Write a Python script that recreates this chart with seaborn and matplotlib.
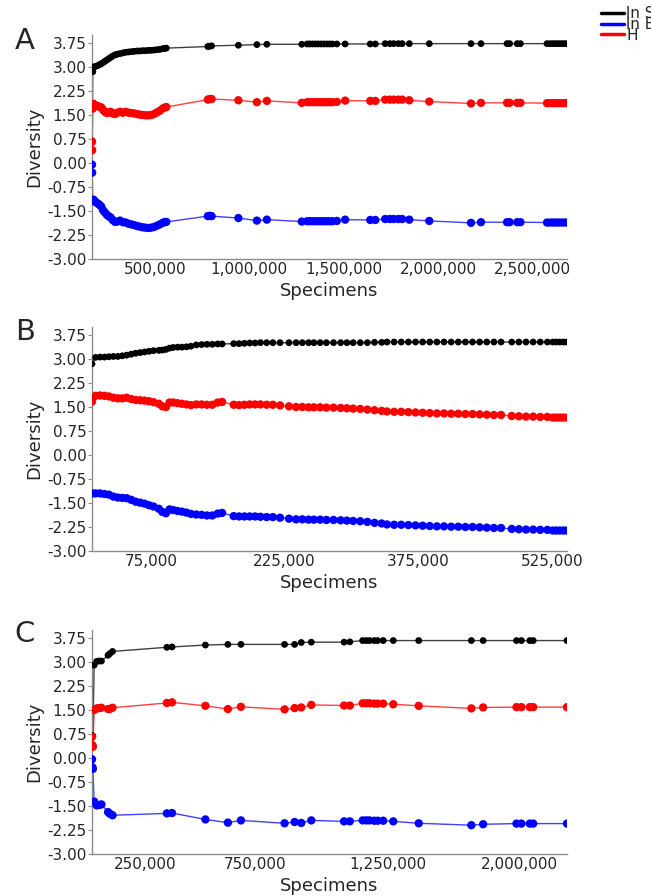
import numpy as np
import pandas as pd
import seaborn as sns
import matplotlib.pyplot as plt
from matplotlib.lines import Line2D
from matplotlib.ticker import FuncFormatter

sns.set_style('white')
plt.rcParams['font.family'] = ['DejaVu Sans']

# ---- panel A (specimens in thousands) ----
a_x = [166, 167, 170, 175, 185, 195, 205, 215, 225, 235, 245, 255, 265, 275, 288, 300, 315, 330,
       345, 360, 375, 390, 405, 420, 435, 450, 465, 480, 495, 510, 525, 540, 550, 560, 780, 790,
       800, 942, 1040, 1093, 1278, 1307, 1320, 1335, 1350, 1365, 1380, 1395, 1410, 1425, 1440,
       1464, 1508, 1641, 1668, 1720, 1745, 1765, 1790, 1810, 1848, 1954, 2175, 2228, 2366, 2380,
       2420, 2437, 2578, 2595, 2610, 2625, 2640, 2655, 2670, 2684]
a_lns = [0.69, 0.69, 2.85, 3.00, 3.02, 3.04, 3.07, 3.10, 3.14, 3.18, 3.22, 3.26, 3.30, 3.34, 3.38,
         3.40, 3.42, 3.44, 3.46, 3.47, 3.48, 3.49, 3.50, 3.50, 3.51, 3.51, 3.52, 3.52, 3.53, 3.54,
         3.55, 3.57, 3.58, 3.59, 3.64, 3.65, 3.66, 3.68, 3.70, 3.71, 3.71, 3.72, 3.72, 3.72, 3.72,
         3.72, 3.72, 3.72, 3.72, 3.72, 3.72, 3.72, 3.72, 3.72, 3.72, 3.73, 3.73, 3.73, 3.73, 3.73,
         3.73, 3.73, 3.73, 3.73, 3.73, 3.73, 3.73, 3.73, 3.73, 3.73, 3.73, 3.73, 3.73, 3.73, 3.73, 3.73]
a_h = [0.66, 0.40, 1.70, 1.85, 1.80, 1.78, 1.76, 1.74, 1.66, 1.60, 1.56, 1.58, 1.60, 1.55, 1.53,
       1.57, 1.60, 1.57, 1.60, 1.57, 1.56, 1.55, 1.53, 1.51, 1.50, 1.49, 1.49, 1.50, 1.53, 1.58,
       1.63, 1.70, 1.73, 1.75, 1.98, 2.00, 2.00, 1.96, 1.90, 1.94, 1.88, 1.90, 1.90, 1.90, 1.90,
       1.90, 1.90, 1.90, 1.90, 1.90, 1.90, 1.91, 1.95, 1.94, 1.94, 1.98, 1.98, 1.98, 1.98, 1.98,
       1.96, 1.92, 1.86, 1.88, 1.88, 1.88, 1.88, 1.88, 1.87, 1.87, 1.87, 1.87, 1.87, 1.87, 1.87, 1.87]
a_lne = [-0.05, -0.30, -1.15, -1.15, -1.22, -1.26, -1.30, -1.36, -1.48, -1.55, -1.62, -1.67, -1.70,
         -1.78, -1.84, -1.83, -1.80, -1.85, -1.86, -1.90, -1.92, -1.94, -1.97, -1.99, -2.01, -2.02,
         -2.03, -2.02, -2.00, -1.96, -1.92, -1.87, -1.85, -1.84, -1.66, -1.65, -1.66, -1.72, -1.80,
         -1.77, -1.83, -1.82, -1.82, -1.82, -1.82, -1.82, -1.82, -1.82, -1.82, -1.82, -1.82, -1.81,
         -1.77, -1.78, -1.78, -1.75, -1.75, -1.75, -1.75, -1.75, -1.77, -1.81, -1.87, -1.85, -1.85,
         -1.85, -1.85, -1.85, -1.86, -1.86, -1.86, -1.86, -1.86, -1.86, -1.86, -1.86]
a_ticks = [500000, 1000000, 1500000, 2000000, 2500000]
a_labels = ['500,000', '1,000,000', '1,500,000', '2,000,000', '2,500,000']

# ---- panel B ----
b_x = [9, 13, 18, 23, 28, 33, 38, 43, 48, 53, 58, 63, 68, 73, 78, 84, 88, 92, 96, 100, 105, 110,
       115, 120, 126, 132, 138, 144, 150, 155, 168, 174, 180, 186, 192, 198, 205, 212, 220, 230,
       238, 245, 252, 258, 265, 272, 280, 288, 295, 302, 310, 318, 326, 334, 340, 348, 356, 364,
       372, 380, 388, 396, 404, 412, 420, 428, 436, 444, 452, 460, 468, 480, 488, 496, 504, 512,
       520, 526, 530, 534, 538, 542]
b_lns = [2.85, 3.05, 3.06, 3.06, 3.07, 3.08, 3.08, 3.10, 3.12, 3.15, 3.18, 3.20, 3.22, 3.24, 3.26,
         3.27, 3.28, 3.30, 3.34, 3.36, 3.37, 3.37, 3.38, 3.40, 3.44, 3.45, 3.46, 3.46, 3.47, 3.47,
         3.48, 3.48, 3.49, 3.50, 3.50, 3.51, 3.51, 3.51, 3.51, 3.51, 3.51, 3.51, 3.51, 3.51, 3.51,
         3.51, 3.51, 3.51, 3.51, 3.51, 3.51, 3.51, 3.52, 3.52, 3.53, 3.53, 3.53, 3.53, 3.53, 3.53,
         3.53, 3.53, 3.53, 3.53, 3.53, 3.53, 3.53, 3.53, 3.53, 3.53, 3.53, 3.53, 3.53, 3.53, 3.53,
         3.53, 3.53, 3.53, 3.53, 3.53, 3.53, 3.53]
b_h = [1.67, 1.85, 1.86, 1.85, 1.83, 1.79, 1.77, 1.77, 1.79, 1.75, 1.72, 1.71, 1.70, 1.68, 1.65,
       1.60, 1.52, 1.50, 1.64, 1.64, 1.62, 1.60, 1.58, 1.56, 1.58, 1.58, 1.57, 1.57, 1.64, 1.66,
       1.57, 1.56, 1.57, 1.58, 1.58, 1.58, 1.57, 1.57, 1.55, 1.52, 1.50, 1.50, 1.49, 1.49, 1.49,
       1.48, 1.48, 1.47, 1.46, 1.45, 1.44, 1.42, 1.40, 1.38, 1.36, 1.35, 1.35, 1.34, 1.33, 1.32,
       1.31, 1.30, 1.30, 1.29, 1.29, 1.28, 1.28, 1.27, 1.26, 1.25, 1.25, 1.22, 1.21, 1.20, 1.20,
       1.19, 1.19, 1.17, 1.17, 1.17, 1.17, 1.17]
b_lne = [-1.20, -1.20, -1.20, -1.22, -1.24, -1.30, -1.33, -1.34, -1.35, -1.40, -1.46, -1.49, -1.52,
         -1.57, -1.61, -1.68, -1.78, -1.82, -1.70, -1.72, -1.75, -1.77, -1.80, -1.84, -1.86, -1.87,
         -1.89, -1.89, -1.83, -1.81, -1.91, -1.92, -1.92, -1.92, -1.92, -1.93, -1.94, -1.94, -1.96,
         -1.99, -2.01, -2.01, -2.02, -2.02, -2.02, -2.03, -2.03, -2.04, -2.05, -2.06, -2.07, -2.09,
         -2.12, -2.14, -2.17, -2.18, -2.18, -2.19, -2.20, -2.21, -2.22, -2.23, -2.23, -2.24, -2.24,
         -2.25, -2.25, -2.26, -2.27, -2.28, -2.28, -2.31, -2.32, -2.33, -2.33, -2.34, -2.34, -2.36,
         -2.36, -2.36, -2.36, -2.36]
b_ticks = [75000, 225000, 375000, 525000]
b_labels = ['75,000', '225,000', '375,000', '525,000']

# ---- panel C ----
c_x = [3, 5, 7, 13, 25, 35, 47, 78, 86, 99, 353, 377, 533, 638, 699, 903, 950, 981, 1028, 1181,
       1208, 1268, 1285, 1300, 1322, 1338, 1364, 1411, 1530, 1776, 1831, 1987, 2010, 2049, 2065, 2223]
c_lns = [0.69, 0.69, 0.69, 2.90, 3.02, 3.03, 3.03, 3.21, 3.26, 3.33, 3.46, 3.47, 3.53, 3.55, 3.55,
         3.55, 3.55, 3.61, 3.62, 3.62, 3.63, 3.67, 3.67, 3.67, 3.67, 3.67, 3.67, 3.67, 3.67, 3.67,
         3.67, 3.67, 3.67, 3.67, 3.67, 3.67]
c_h = [0.66, 0.40, 0.35, 1.50, 1.55, 1.56, 1.57, 1.53, 1.53, 1.57, 1.72, 1.74, 1.63, 1.53, 1.60,
       1.52, 1.56, 1.58, 1.66, 1.64, 1.64, 1.71, 1.71, 1.71, 1.70, 1.70, 1.70, 1.68, 1.63, 1.55,
       1.58, 1.59, 1.59, 1.59, 1.59, 1.59]
c_lne = [-0.04, -0.29, -0.34, -1.36, -1.48, -1.47, -1.45, -1.69, -1.74, -1.79, -1.73, -1.72, -1.92,
         -2.02, -1.95, -2.04, -2.00, -2.03, -1.95, -1.98, -1.98, -1.95, -1.95, -1.95, -1.96, -1.96,
         -1.96, -1.98, -2.04, -2.10, -2.07, -2.05, -2.05, -2.05, -2.05, -2.05]
c_ticks = [252000, 765000, 1387000, 2003000]
c_labels = ['250,000', '750,000', '1,250,000', '2,000,000']

series = ['ln S', 'ln E', 'H']
colors = {'ln S': '#000000', 'ln E': '#0000ff', 'H': '#ff0000'}
sizes = {'ln S': 24, 'ln E': 36, 'H': 36}
yticks = [-3.0, -2.25, -1.5, -0.75, 0.0, 0.75, 1.5, 2.25, 3.0, 3.75]


def panel(ax, x, lns, lne, h, letter, ticks, labels, fig, ytop):
    df = pd.DataFrame({'Specimens': np.array(x) * 1000, 'ln S': lns, 'ln E': lne, 'H': h})
    long = df.melt(id_vars='Specimens', value_vars=series, var_name='index', value_name='Diversity')
    sns.lineplot(data=long, x='Specimens', y='Diversity', hue='index', palette=colors,
                 estimator=None, sort=False, lw=1, alpha=0.75, legend=False, ax=ax)
    sns.scatterplot(data=long, x='Specimens', y='Diversity', hue='index', palette=colors,
                    size='index', sizes=sizes, linewidth=0, legend=False, ax=ax, zorder=3)
    ax.set_xlim(x[0] * 1000, x[-1] * 1000)
    ax.set_ylim(-3, 4.0)
    ax.set_yticks(yticks)
    ax.yaxis.set_major_formatter(FuncFormatter(lambda v, p: '%.2f' % v))
    ax.set_xticks(ticks)
    ax.set_xticklabels(labels)
    ax.tick_params(axis='y', length=3, width=0.8, color='#8c8c8c', pad=1, labelsize=11, left=True)
    ax.tick_params(axis='x', length=0, pad=2, labelsize=11)
    ax.set_ylabel('Diversity', fontsize=13, labelpad=3)
    ax.set_xlabel('Specimens', fontsize=13, labelpad=4)
    for s in ['top', 'right']:
        ax.spines[s].set_visible(False)
    for s in ['left', 'bottom']:
        ax.spines[s].set_color('#8c8c8c')
        ax.spines[s].set_linewidth(1)
    fig.text(25 / 651, 1 - ytop / 896, letter, fontsize=21, ha='center', va='center')


fig = plt.figure(figsize=(6.51, 8.96), dpi=100)
axA = fig.add_axes([92 / 651, 1 - 259 / 896, 475 / 651, 224 / 896])
axB = fig.add_axes([92 / 651, 1 - 551 / 896, 475 / 651, 224 / 896])
axC = fig.add_axes([92 / 651, 1 - 854 / 896, 475 / 651, 224 / 896])

panel(axA, a_x, a_lns, a_lne, a_h, 'A', a_ticks, a_labels, fig, 41)
panel(axB, b_x, b_lns, b_lne, b_h, 'B', b_ticks, b_labels, fig, 332)
panel(axC, c_x, c_lns, c_lne, c_h, 'C', c_ticks, c_labels, fig, 634)

handles = [Line2D([], [], color=colors[s], lw=2.5) for s in series]
fig.legend(handles=handles, labels=series, loc='upper left', bbox_to_anchor=(601 / 651, 1 - 6 / 896),
           frameon=False, fontsize=11, labelspacing=-0.27, handlelength=1.5, handletextpad=0.15,
           borderpad=0, borderaxespad=0)

fig.savefig('out.png', dpi=100)
